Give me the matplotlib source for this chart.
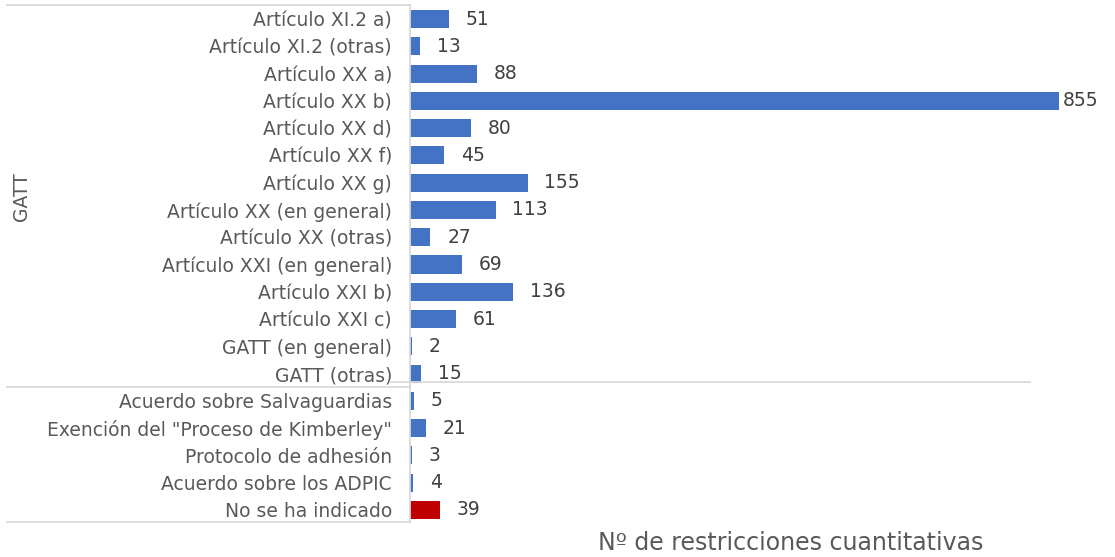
import matplotlib.pyplot as plt
from matplotlib.lines import Line2D

categories = [
    "Artículo XI.2 a)", "Artículo XI.2 (otras)", "Artículo XX a)", "Artículo XX b)",
    "Artículo XX d)", "Artículo XX f)", "Artículo XX g)", "Artículo XX (en general)",
    "Artículo XX (otras)", "Artículo XXI (en general)", "Artículo XXI b)", "Artículo XXI c)",
    "GATT (en general)", "GATT (otras)", "Acuerdo sobre Salvaguardias",
    "Exención del \"Proceso de Kimberley\"", "Protocolo de adhesión",
    "Acuerdo sobre los ADPIC", "No se ha indicado",
]
values = [51, 13, 88, 855, 80, 45, 155, 113, 27, 69, 136, 61, 2, 15, 5, 21, 3, 4, 39]
bar_colors = ["#4472C4"] * 18 + ["#C00000"]
group_label = "GATT"
x_label = "Nº de restricciones cuantitativas"

W, H = 1115, 557
fig = plt.figure(figsize=(W / 100, H / 100), dpi=100)
ax = fig.add_axes([410 / W, 1 - 523.6 / H, 649 / W, 518.2 / H])

ypos = list(range(len(categories)))
ax.barh(ypos, values, height=0.66, color=bar_colors)
ax.set_xlim(0, 855)
ax.set_ylim(len(categories) - 0.5, -0.5)
ax.set_yticks(ypos)
ax.set_yticklabels(categories, fontsize=13.5, color="#595959")
ax.tick_params(axis="y", length=0, pad=13)
ax.set_xticks([])
for s in ax.spines.values():
    s.set_visible(False)

vmax = max(values)
for y, v in zip(ypos, values):
    # excel keeps the longest label inside the chart area
    off = 3 if v == vmax else 12
    ax.annotate(str(v), (v, y), xytext=(off, 0), textcoords="offset points",
                va="center", ha="left", fontsize=13.5, color="#404040")

# category box lines in pixel coords
def px_line(x0, y0, x1, y1):
    fig.add_artist(Line2D([x0 / W, x1 / W], [1 - y0 / H, 1 - y1 / H],
                          color="#d9d9d9", lw=1.3, transform=fig.transFigure))

px_line(7, 5, 410, 5)
px_line(410, 5, 410, 522)
px_line(7, 387, 410, 387)
px_line(390, 382, 1030, 382)
px_line(7, 522, 410, 522)

fig.text(21 / W, 1 - 197 / H, group_label, rotation=90, ha="center", va="center",
         fontsize=13.5, color="#595959")
fig.text(791 / W, 1 - 543 / H, x_label, ha="center", va="center",
         fontsize=17, color="#595959")

fig.savefig("out.png", dpi=100)
